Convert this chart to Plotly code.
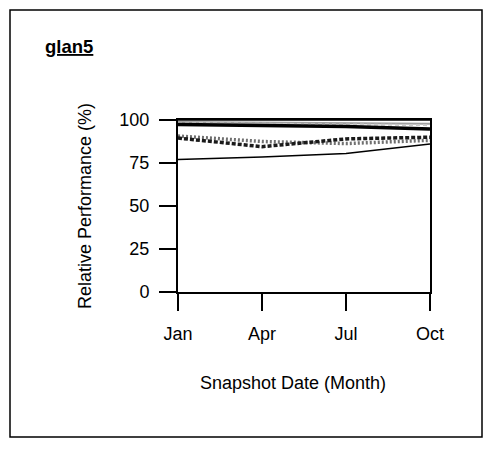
import plotly.graph_objects as go

months = ["Jan", "Apr", "Jul", "Oct"]
yticks = [0, 25, 50, 75, 100]

s_top = [100, 100, 100, 100]
s_gray = [98.8, 98.6, 98.2, 97.8]
s_lightgray = [98.2, 97.8, 97.3, 97.0]
s_thick = [97.4, 96.8, 96.2, 94.8]
s_dotted = [90.7, 87.5, 86.3, 88.2]
s_dashed = [89.5, 84.5, 89.0, 90.0]
s_low = [77.0, 78.5, 80.5, 86.0]

series = [
    (s_gray, dict(color="#a0a0a0", width=2, dash="solid")),
    (s_lightgray, dict(color="#c8c8c8", width=2, dash="4px,3px")),
    (s_thick, dict(color="black", width=3.5, dash="solid")),
    (s_top, dict(color="black", width=1.5, dash="solid")),
    (s_dotted, dict(color="#707070", width=3.5, dash="2px,2px")),
    (s_dashed, dict(color="#1a1a1a", width=3.5, dash="4px,2px")),
    (s_low, dict(color="black", width=1.5, dash="solid")),
]

fig = go.Figure()
for ys, line in series:
    fig.add_trace(go.Scatter(x=months, y=ys, mode="lines", line=line,
                             showlegend=False, hoverinfo="skip"))

W, H = 492, 450
L, R, T, B = 178, 62, 120, 158
pw, ph = W - L - R, H - T - B

def px(x):
    return (x - L) / pw

def py(y):
    return (H - B - y) / ph

FS = 18
font = dict(family="Liberation Sans, Arial, sans-serif", size=FS, color="black")

fig.update_layout(
    width=W, height=H,
    margin=dict(l=L, r=R, t=T, b=B, autoexpand=False),
    paper_bgcolor="white", plot_bgcolor="white",
    font=font,
    xaxis=dict(
        type="category", range=[0, 3], showgrid=False, zeroline=False,
        showline=True, linecolor="black", linewidth=2, mirror=True,
        ticks="outside", ticklen=17, tickwidth=2, tickcolor="black",
        ticklabelstandoff=7, tickfont=font,
    ),
    yaxis=dict(
        range=[0, 100], tickvals=yticks, showgrid=False, zeroline=False,
        showline=True, linecolor="black", linewidth=2, mirror=True,
        ticks="outside", ticklen=17, tickwidth=2, tickcolor="black",
        ticklabelstandoff=6, tickfont=font,
    ),
    shapes=[dict(type="rect", xref="paper", yref="paper",
                 x0=px(10), x1=px(482), y0=py(10), y1=py(437),
                 line=dict(color="black", width=1.5), fillcolor="rgba(0,0,0,0)",
                 layer="below")],
    annotations=[
        dict(text="<b><u>glan5</u></b>", xref="paper", yref="paper",
             x=px(43), y=py(47), xanchor="left", yanchor="middle",
             showarrow=False, font=dict(family=font["family"], size=18.5, color="black")),
        dict(text="Relative Performance (%)", xref="paper", yref="paper",
             x=px(85), y=py(206), xanchor="center", yanchor="middle",
             textangle=-90, showarrow=False, font=font),
        dict(text="Snapshot Date (Month)", xref="paper", yref="paper",
             x=px(293), y=py(383), xanchor="center", yanchor="middle",
             showarrow=False, font=font),
    ],
)

fig.write_html("out.html", config={"displayModeBar": False},
               post_script="document.body.style.margin='0';")
